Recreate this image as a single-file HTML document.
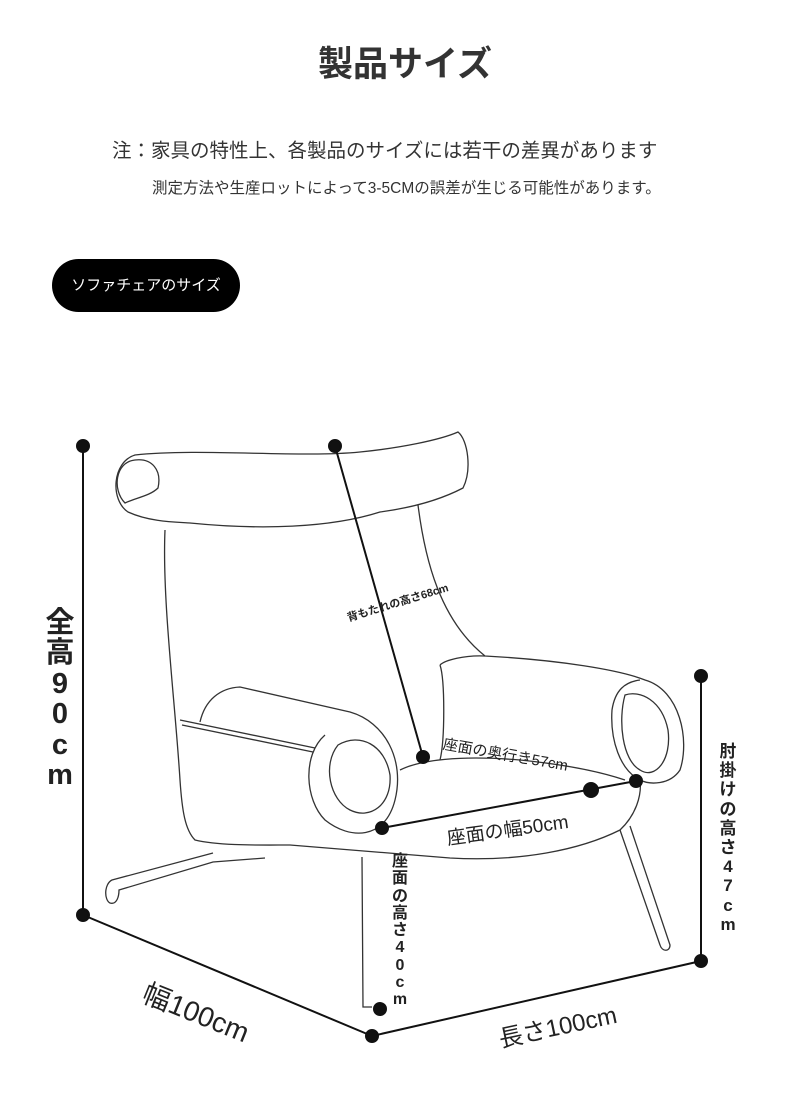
<!DOCTYPE html>
<html><head><meta charset="utf-8"><style>
body{margin:0;width:790px;height:1116px;background:#fff;position:relative;overflow:hidden;font-family:"Liberation Sans","Noto Sans CJK JP",sans-serif;color:#222}
.a{position:absolute;white-space:nowrap}
.v{position:absolute;font-weight:bold;text-align:center;line-height:1.05}
</style></head><body>
<div class="a" style="left:0;width:810px;top:36px;text-align:center;font-size:35px;font-weight:bold;color:#333">製品サイズ</div>
<div class="a" style="left:112px;top:134px;font-size:19.5px;color:#333">注：家具の特性上、各製品のサイズには若干の差異があります</div>
<div class="a" style="left:152px;top:176px;font-size:15.5px;color:#333">測定方法や生産ロットによって3-5CMの誤差が生じる可能性があります。</div>
<div class="a" style="left:52px;top:259px;width:188px;height:53px;background:#000;border-radius:27px;color:#fff;font-size:15px;line-height:53px;text-align:center">ソファチェアのサイズ</div>
<svg class="a" style="left:0;top:0" width="790" height="1116" viewBox="0 0 790 1116">
<g fill="none" stroke="#333" stroke-width="1.3">
<path d="M128,512 C110,500 112,462 135,455 C200,448 300,458 360,452 C400,448 440,440 458,432 C468,440 472,470 463,488 C440,500 410,508 380,512 C330,528 260,530 190,523 C175,522 150,522 128,512Z"/>
<path d="M125,503 C112,490 115,462 135,460 C152,458 162,470 158,488 C150,496 135,498 125,503Z"/>
<path d="M165,530 C162,600 175,700 180,780 C182,810 185,830 195,840 C220,846 260,845 290,845 L450,858 C520,862 580,850 620,830 C636,815 642,795 640,780"/>
<path d="M418,505 C425,560 440,620 485,656 C560,660 620,670 645,680 C680,690 690,740 680,770 C670,785 650,785 640,780 C620,770 610,740 612,710 C615,690 625,682 640,680"/>
<path d="M625,695 C640,690 662,700 668,730 C672,760 655,780 640,770 C622,760 618,720 625,695Z"/>
<path d="M440,665 C445,680 445,740 440,760 M485,656 C465,655 445,660 440,665"/>
<path d="M200,722 C205,700 220,688 240,687 L350,712 C385,722 405,760 395,800 C385,840 350,840 325,820 C305,800 302,755 325,735"/>
<path d="M338,745 C360,732 385,745 390,775 C392,805 370,820 350,810 C330,800 322,765 338,745Z"/>
<path d="M180,720 L315,748 M182,725 L313,752"/>
<path d="M400,770 C420,760 460,755 520,760 C580,766 610,775 625,780"/>
<path d="M213,853 L112,880 C104,884 104,900 110,903 C117,905 119,896 119,890 L213,862 L265,858"/>
<path d="M620,830 L660,945 C662,952 670,952 670,945 L630,826"/>
<path d="M362,857 L363,1007 L372,1007"/>
</g>
<g stroke="#111" stroke-width="2" fill="#111">
<line x1="83" y1="446" x2="83" y2="915"/>
<line x1="83" y1="915" x2="372" y2="1036"/>
<line x1="372" y1="1036" x2="701" y2="961"/>
<line x1="701" y1="676" x2="701" y2="961"/>
<line x1="335" y1="446" x2="423" y2="757"/>
<line x1="382" y1="828" x2="636" y2="781"/>
<circle cx="83" cy="446" r="6"/><circle cx="83" cy="915" r="6"/><circle cx="335" cy="446" r="6"/>
<circle cx="423" cy="757" r="6"/><circle cx="382" cy="828" r="6"/><circle cx="591" cy="790" r="7"/>
<circle cx="636" cy="781" r="6"/><circle cx="701" cy="676" r="6"/><circle cx="701" cy="961" r="6"/>
<circle cx="372" cy="1036" r="6"/><circle cx="380" cy="1009" r="6"/>
</g>
</svg>
<div class="v" style="left:40px;top:608px;width:40px;font-size:29px">全<br>高<br>9<br>0<br>c<br>m</div>
<div class="v" style="left:717px;top:742px;width:22px;font-size:17px;line-height:1.13">肘<br>掛<br>け<br>の<br>高<br>さ<br>4<br>7<br>c<br>m</div>
<div class="v" style="left:390px;top:853px;width:20px;font-size:16px;line-height:1.08">座<br>面<br>の<br>高<br>さ<br>4<br>0<br>c<br>m</div>
<div class="a" style="left:152px;top:972px;font-size:28px;transform:rotate(22deg);transform-origin:0 0">幅100cm</div>
<div class="a" style="left:495px;top:1020px;font-size:24px;transform:rotate(-12deg);transform-origin:0 0">長さ100cm</div>
<div class="a" style="left:445px;top:824px;font-size:19px;transform:rotate(-8deg);transform-origin:0 0">座面の幅50cm</div>
<div class="a" style="left:445px;top:733px;font-size:15px;transform:rotate(10deg);transform-origin:0 0">座面の奥行き57cm</div>
<div class="a" style="left:345px;top:610px;font-size:11px;font-weight:bold;transform:rotate(-17deg);transform-origin:0 0">背もたれの高さ68cm</div>
</body></html>
